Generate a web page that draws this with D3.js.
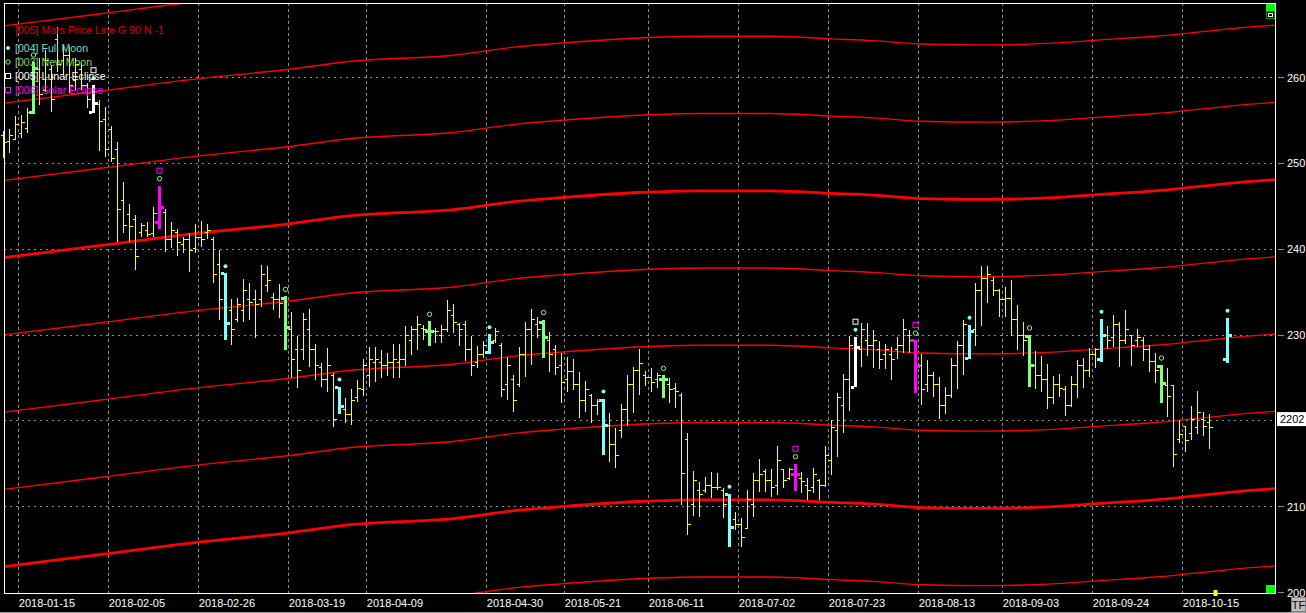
<!DOCTYPE html>
<html><head><meta charset="utf-8">
<script src="https://cdn.jsdelivr.net/npm/d3@7"></script>
<style>html,body{margin:0;padding:0;background:#000;overflow:hidden}</style>
</head><body><svg id="c" width="1306" height="613"></svg>
<script>
// ---------- DATA ----------
const barOpen = [253.3,252.5,252.8,253.5,254.1,255.9,260.9,258.5,260.9,264.4,262.0,262.6,259.7,260.9,259.1,255.9,256.8,255.1,253.9,251.6,
245.7,244.0,243.4,242.0,242.2,241.8,243.1,244.3,241.1,242.0,240.5,241.1,240.1,241.4,242.0,241.1,238.2,237.2,232.9,231.8,
232.9,234.1,234.1,234.1,235.8,234.4,234.1,234.3,230.6,228.3,228.3,230.6,228.3,226.2,224.8,225.3,223.9,221.3,220.7,222.7,
223.6,225.3,226.8,226.8,226.5,226.8,226.8,227.1,229.4,230.6,230.8,230.4,230.4,230.0,230.6,232.3,231.2,231.2,228.3,226.8,
227.7,228.0,229.4,228.8,224.2,224.8,224.2,227.7,230.6,231.2,231.4,229.4,228.3,226.5,224.8,225.7,224.2,222.4,223.0,221.8,
222.4,219.5,217.2,218.9,221.3,224.2,225.9,225.3,225.0,224.8,224.8,224.2,223.8,223.0,217.8,210.2,211.9,211.9,212.5,212.2,
211.9,211.4,208.5,207.9,207.5,210.2,213.1,214.1,213.1,212.5,214.3,213.3,213.7,213.3,212.5,212.2,213.1,212.5,215.4,218.9,
221.8,224.8,223.9,228.3,229.4,228.8,228.3,227.7,227.7,228.3,228.8,230.0,229.4,226.5,224.2,225.3,224.2,221.8,223.0,226.5,
228.8,227.3,230.6,235.2,236.6,236.4,235.2,234.1,234.3,231.8,230.0,229.8,226.5,225.3,224.8,222.7,224.2,223.6,221.8,224.2,
226.5,225.9,227.7,227.1,230.0,229.7,231.2,229.4,230.0,229.4,229.4,228.3,226.9,226.3,224.1,224.1,217.8,219.3,218.5,219.2,
220.1,219.8,null,null,227.1];
const barHigh = [253.8,254.0,255.5,255.6,256.4,261.8,262.3,263.2,261.5,265.9,263.8,263.6,262.3,261.7,259.4,259.1,257.4,256.6,254.4,252.5,
247.8,245.3,244.0,243.1,243.2,244.9,247.4,244.7,243.2,242.4,241.4,241.9,242.9,243.3,242.9,241.4,239.9,237.2,234.2,234.3,
236.5,236.1,235.2,238.2,238.0,234.9,235.9,234.5,232.7,229.9,232.6,233.0,228.9,226.7,228.5,225.6,224.0,222.7,223.7,224.8,
227.2,228.6,228.6,228.3,227.9,229.0,229.0,231.1,231.1,232.2,231.2,231.6,230.8,231.2,234.1,233.6,231.4,231.6,229.9,228.7,
229.3,230.1,230.8,229.1,227.4,225.3,228.6,231.5,233.0,232.1,231.8,230.4,228.8,227.9,227.4,227.2,225.7,224.6,223.1,222.6,
222.6,220.9,219.2,222.0,225.3,226.3,228.4,225.8,226.2,225.6,225.3,225.0,224.4,223.3,218.6,214.2,212.9,213.4,214.0,213.9,
212.2,211.5,209.4,208.7,211.9,213.9,215.6,214.4,214.4,217.1,214.4,214.5,215.0,214.0,213.3,214.5,213.2,217.1,220.1,223.3,
225.5,229.9,229.8,231.4,231.4,230.6,229.3,229.0,228.6,229.8,231.9,230.6,229.4,227.8,227.1,225.7,225.1,223.9,227.3,229.3,
231.8,231.2,236.1,238.0,238.0,236.7,235.4,235.6,236.4,233.5,231.5,230.0,228.1,227.6,226.6,225.2,225.5,224.1,225.2,227.1,
227.3,228.5,228.5,231.9,231.1,232.3,231.5,232.9,230.0,230.7,229.8,228.8,227.9,226.5,226.2,224.1,220.1,219.3,221.7,223.5,
221.0,220.8,null,null,232.0];
const barLow = [250.6,251.2,252.7,252.9,253.5,255.7,256.8,258.3,256.0,260.6,260.3,258.2,258.5,258.5,256.4,255.9,251.4,250.7,250.2,240.8,
241.9,240.8,237.6,241.4,241.4,241.4,242.4,239.7,240.1,239.2,239.6,237.3,239.6,240.2,241.2,236.1,231.8,229.4,228.8,231.5,
231.5,231.8,229.7,233.3,235.0,232.9,232.0,228.3,225.0,223.8,227.1,226.3,224.8,223.9,223.4,219.3,220.8,219.8,219.5,222.2,
222.9,223.9,224.5,225.0,225.2,225.0,225.0,226.4,227.7,228.3,229.4,228.7,229.1,229.1,230.4,230.2,228.7,227.0,225.2,226.1,
227.3,227.8,229.1,222.8,222.4,221.0,223.9,225.1,226.5,229.7,227.3,225.7,225.3,222.1,223.4,223.6,220.3,221.0,219.8,220.7,
216.0,215.2,214.5,218.0,219.4,220.9,223.0,224.1,223.4,223.8,222.7,222.1,221.5,210.2,206.7,208.9,208.8,211.6,211.0,211.9,
208.7,205.3,207.3,205.3,207.5,208.8,211.7,211.7,211.1,211.4,212.2,213.1,211.8,211.6,210.8,211.6,210.8,212.3,213.7,215.8,
218.6,221.2,223.9,226.3,227.6,226.2,226.0,226.0,224.8,227.2,227.9,227.9,223.3,221.9,223.4,222.8,220.2,220.8,222.7,223.7,
225.3,227.2,228.7,231.1,233.7,234.6,232.1,232.1,229.9,228.3,227.6,223.9,223.7,223.4,221.4,222.0,222.8,220.6,221.6,222.7,
223.8,225.1,226.2,226.9,228.4,228.6,226.3,229.0,226.4,228.6,227.0,225.7,224.4,222.1,220.5,214.6,217.4,216.4,217.8,218.5,
218.2,216.7,null,null,226.7];
const barClose = [252.4,253.3,254.5,254.7,255.9,261.1,258.0,262.0,257.4,261.5,262.6,259.1,261.5,259.1,257.4,257.0,254.9,251.6,250.6,244.6,
242.7,242.6,239.2,242.7,241.7,244.2,244.9,241.1,242.2,240.8,241.1,239.9,241.4,241.1,242.2,237.0,234.1,231.3,230.6,233.5,
235.2,233.8,233.5,237.0,236.4,234.1,233.7,230.9,227.1,225.9,231.8,228.3,226.5,224.8,226.5,220.1,221.7,220.7,222.4,223.8,
226.5,227.1,227.1,226.5,226.8,227.1,227.1,230.0,230.6,231.2,230.6,230.4,230.4,230.6,232.9,231.5,230.6,228.3,226.5,227.7,
228.8,229.1,230.4,223.6,226.5,222.4,227.7,230.6,231.8,230.6,229.7,227.7,226.2,224.5,225.7,224.2,222.4,223.6,221.8,222.2,
219.5,217.2,216.0,221.3,224.2,225.9,226.7,225.0,224.5,225.3,224.8,223.6,223.4,213.9,207.9,213.1,211.4,212.5,212.2,212.2,
210.2,207.6,207.9,206.4,210.8,213.1,213.7,213.1,212.2,215.4,213.1,214.3,213.7,212.9,211.9,213.7,212.5,216.0,219.2,222.7,
224.8,228.8,228.6,230.6,228.8,229.4,227.1,228.3,227.1,228.8,230.6,229.4,226.3,223.6,225.3,224.2,221.8,223.0,226.5,228.8,
231.2,230.4,235.2,236.6,237.0,235.2,234.1,234.3,231.8,230.0,229.4,226.5,225.3,224.8,222.7,224.2,223.8,221.8,224.2,226.5,
225.9,227.7,228.3,230.0,229.4,231.2,229.4,230.6,228.8,229.7,228.3,226.9,225.9,224.3,222.8,216.1,218.4,217.7,220.1,221.0,
219.3,219.2,null,null,230.0];

const fullMoonIdx = [15, 37, 56, 81, 100, 121, 142, 161, 183, 204];
const newMoonIdx = [5, 26, 47, 71, 90, 110, 132, 152, 171, 193];
const lunarEclipseIdx = [15, 142];
const solarEclipseIdx = [26, 132, 152];

const tickLabels = ["2018-01-15","2018-02-05","2018-02-26","2018-03-19","2018-04-09","2018-04-30","2018-05-21",
  "2018-06-11","2018-07-02","2018-07-23","2018-08-13","2018-09-03","2018-09-24","2018-10-15"];
const tickIdx = [3, 18, 33, 48, 61, 81, 94, 108, 123, 138, 153, 167, 182, 197];

const yTicks = [200, 210, 220, 230, 240, 250, 260];
const lastPrice = 220.2;
const lastPriceText = "2202";
const cursorIdx = 202;

// Mars price line: base curve (bar index, price) and harmonic offsets
const marsIdx = [0, 16, 33, 47, 58, 75, 86, 93, 106, 116, 128, 138, 145, 153, 164, 175, 181, 192, 208, 212];
const marsBase = [221.0, 222.4, 223.9, 224.9, 225.9, 226.6, 227.6, 228.0, 228.6, 228.8, 228.8, 228.5, 228.3, 227.9, 227.8, 228.0, 228.3, 228.8, 229.9, 230.1];
const marsStep = 9;
const marsOffsets = [-3, -2, -1, 0, 1, 2, 3, 4, 5];

const legendItems = [
  {text: "[004] Full Moon", color: "#66dede", sym: "dot", symColor: "#80ffff"},
  {text: "[003] New Moon", color: "#74dc74", sym: "circle", symColor: "#80ff80"},
  {text: "[005] Lunar Eclipse", color: "#ffffff", sym: "square", symColor: "#ffffff"},
  {text: "[006] Solar Eclipse", color: "#ff00ff", sym: "square", symColor: "#ff00ff"}
];

// ---------- DRAW ----------
const svg = d3.select("#c");
const FONT = "'Liberation Sans', Arial, sans-serif";
const L = 4, T = 3, R = 1275, B = 593;

const xs = d3.scaleLinear().domain([0, 212]).range([0.3, 1272.3]);   // band start
const xc = i => Math.floor(xs(i + 0.5)) + 0.5;                       // bar centre
const y = d3.scaleLinear().domain([200, 260]).range([592.5, 77.5]);
const snap = v => Math.floor(v) + 0.5;

svg.append("rect").attr("width", 1306).attr("height", 613).attr("fill", "#000");

svg.append("defs").append("clipPath").attr("id", "plot")
  .append("rect").attr("x", L).attr("y", T).attr("width", R - L).attr("height", B - T);

// grid
const grid = svg.append("g").attr("stroke", "#8c8c8c").attr("stroke-width", 1).attr("shape-rendering", "crispEdges");
grid.selectAll("line.h").data(yTicks.filter(v => v > 200)).join("line")
  .attr("x1", L).attr("x2", R).attr("y1", d => snap(y(d))).attr("y2", d => snap(y(d)))
  .attr("stroke-dasharray", "2,4");
grid.selectAll("line.v").data(tickIdx).join("line")
  .attr("x1", d => snap(xs(d))).attr("x2", d => snap(xs(d))).attr("y1", T).attr("y2", B)
  .attr("stroke-dasharray", "3,3");

// Mars lines
const marsPts = marsIdx.map((d, i) => [d, marsBase[i]]);
const lineGen = d3.line().x(d => xs(d[0] + 0.5)).y(d => y(d[1])).curve(d3.curveMonotoneX);
svg.append("g").attr("clip-path", "url(#plot)").selectAll("path").data(marsOffsets).join("path")
  .attr("d", k => lineGen(marsPts.map(p => [p[0], p[1] + k * marsStep])))
  .attr("fill", "none").attr("stroke", "#ff0000")
  .attr("stroke-width", k => (Math.abs(k) % 4 === 2 ? 2.8 : 1.4));

// bars
function barColor(i) {
  if (solarEclipseIdx.includes(i)) return "#ff00ff";
  if (lunarEclipseIdx.includes(i)) return "#ffffff";
  if (fullMoonIdx.includes(i)) return "#80ffff";
  if (newMoonIdx.includes(i)) return "#80ff80";
  return "#ffff00";
}
const bars = svg.append("g").attr("shape-rendering", "crispEdges");
d3.range(barHigh.length).forEach(i => {
  if (barHigh[i] == null) return;
  const c = barColor(i), cx = xc(i);
  const special = c !== "#ffff00";
  const yh = y(barHigh[i]), yl = y(barLow[i]), yo = snap(y(barOpen[i])), yc = snap(y(barClose[i]));
  if (!special) {
    bars.append("line").attr("x1", cx).attr("x2", cx).attr("y1", yh).attr("y2", yl).attr("stroke", c).attr("stroke-width", 1);
    bars.append("line").attr("x1", cx - 3).attr("x2", cx).attr("y1", yo).attr("y2", yo).attr("stroke", c).attr("stroke-width", 1);
    bars.append("line").attr("x1", cx).attr("x2", cx + 3).attr("y1", yc).attr("y2", yc).attr("stroke", c).attr("stroke-width", 1);
  } else {
    bars.append("rect").attr("x", cx - 1.5).attr("y", yh).attr("width", 3).attr("height", yl - yh).attr("fill", c);
    bars.append("rect").attr("x", cx - 4.5).attr("y", yo - 1.5).attr("width", 3).attr("height", 3).attr("fill", c);
    bars.append("rect").attr("x", cx + 1.5).attr("y", yc - 1.5).attr("width", 3).attr("height", 3).attr("fill", c);
  }
});

// moon / eclipse markers
const mk = svg.append("g");
fullMoonIdx.forEach(i => {
  if (barHigh[i] == null) return;
  mk.append("circle").attr("cx", xc(i)).attr("cy", y(barHigh[i]) - 7).attr("r", 2).attr("fill", "#80ffff");
});
newMoonIdx.forEach(i => {
  mk.append("circle").attr("cx", xc(i)).attr("cy", y(barHigh[i]) - 7).attr("r", 2.2)
    .attr("fill", "none").attr("stroke", "#80ff80").attr("stroke-width", 1);
});
lunarEclipseIdx.forEach(i => {
  mk.append("rect").attr("x", xc(i) - 2.5).attr("y", y(barHigh[i]) - 17.5).attr("width", 5).attr("height", 5)
    .attr("fill", "none").attr("stroke", "#ffffff").attr("stroke-width", 1);
});
solarEclipseIdx.forEach(i => {
  mk.append("rect").attr("x", xc(i) - 2.5).attr("y", y(barHigh[i]) - 17.5).attr("width", 5).attr("height", 5)
    .attr("fill", "none").attr("stroke", "#ff00ff").attr("stroke-width", 1);
});

// frame
svg.append("rect").attr("x", L + 0.5).attr("y", T + 0.5).attr("width", R - L).attr("height", B - T)
  .attr("fill", "none").attr("stroke", "#ffffff").attr("stroke-width", 1).attr("shape-rendering", "crispEdges");

// corner indicators
svg.append("rect").attr("x", 1266).attr("y", 4).attr("width", 9).attr("height", 8).attr("fill", "#00ff00");
svg.append("rect").attr("x", 1266.5).attr("y", 11.5).attr("width", 8).attr("height", 7).attr("fill", "#000").attr("stroke", "#00a000");
svg.append("rect").attr("x", 1268.5).attr("y", 13.5).attr("width", 4).attr("height", 3).attr("fill", "#000").attr("stroke", "#ffffff");
svg.append("rect").attr("x", 1266).attr("y", 585).attr("width", 9).attr("height", 8).attr("fill", "#00ff00");
svg.append("rect").attr("x", xc(cursorIdx) - 2).attr("y", 590).attr("width", 4).attr("height", 6).attr("fill", "#ffff00");

// x axis labels
svg.append("g").selectAll("text").data(tickLabels).join("text")
  .attr("x", (d, i) => xs(tickIdx[i]) + 0.5).attr("y", 607)
  .attr("fill", "#ffffff").attr("font-family", FONT).attr("font-size", "11px").text(d => d);

// y axis (right) - labels hidden where the last-price box sits
const ya = svg.append("g");
ya.selectAll("line").data(yTicks).join("line")
  .attr("x1", 1278).attr("x2", 1284).attr("y1", d => snap(y(d))).attr("y2", d => snap(y(d)))
  .attr("stroke", "#8c8c8c").attr("shape-rendering", "crispEdges");
ya.selectAll("text").data(yTicks.filter(v => Math.abs(y(v) - y(lastPrice)) > 14)).join("text")
  .attr("x", 1287).attr("y", d => y(d) + 4)
  .attr("fill", "#ffffff").attr("font-family", FONT).attr("font-size", "11px").text(d => d);

// last price box
svg.append("rect").attr("x", 1277).attr("y", y(lastPrice) - 7).attr("width", 29).attr("height", 14).attr("fill", "#ffffff");
svg.append("text").attr("x", 1280).attr("y", y(lastPrice) + 4).attr("fill", "#000").attr("font-family", FONT)
  .attr("font-size", "11px").text(lastPriceText);

// TF box + window lines
svg.append("line").attr("x1", 0).attr("x2", 1306).attr("y1", 612.5).attr("y2", 612.5).attr("stroke", "#a0a0a0");
svg.append("rect").attr("x", 1291.5).attr("y", 597.5).attr("width", 14).attr("height", 14).attr("fill", "#c0c0c0").attr("stroke", "#808080");
svg.append("text").attr("x", 1298.5).attr("y", 609).attr("text-anchor", "middle").attr("fill", "#000")
  .attr("font-family", FONT).attr("font-size", "11px").text("TF");

// legend
const lg = svg.append("g").attr("font-family", FONT).attr("font-size", "10.6px");
lg.append("text").attr("x", 15).attr("y", 34).attr("fill", "#d80000").text("[005] Mars Price Line G 90 N -1");
legendItems.forEach((it, k) => {
  const cy = 48 + k * 14;
  if (it.sym === "dot") lg.append("circle").attr("cx", 8).attr("cy", cy).attr("r", 2).attr("fill", it.symColor);
  else if (it.sym === "circle") lg.append("circle").attr("cx", 8).attr("cy", cy).attr("r", 2.2).attr("fill", "none").attr("stroke", it.symColor);
  else lg.append("rect").attr("x", 5.5).attr("y", cy - 2.5).attr("width", 5).attr("height", 5).attr("fill", "none").attr("stroke", it.symColor);
  lg.append("text").attr("x", 15).attr("y", cy + 4).attr("fill", it.color).text(it.text);
});
</script></body></html>
